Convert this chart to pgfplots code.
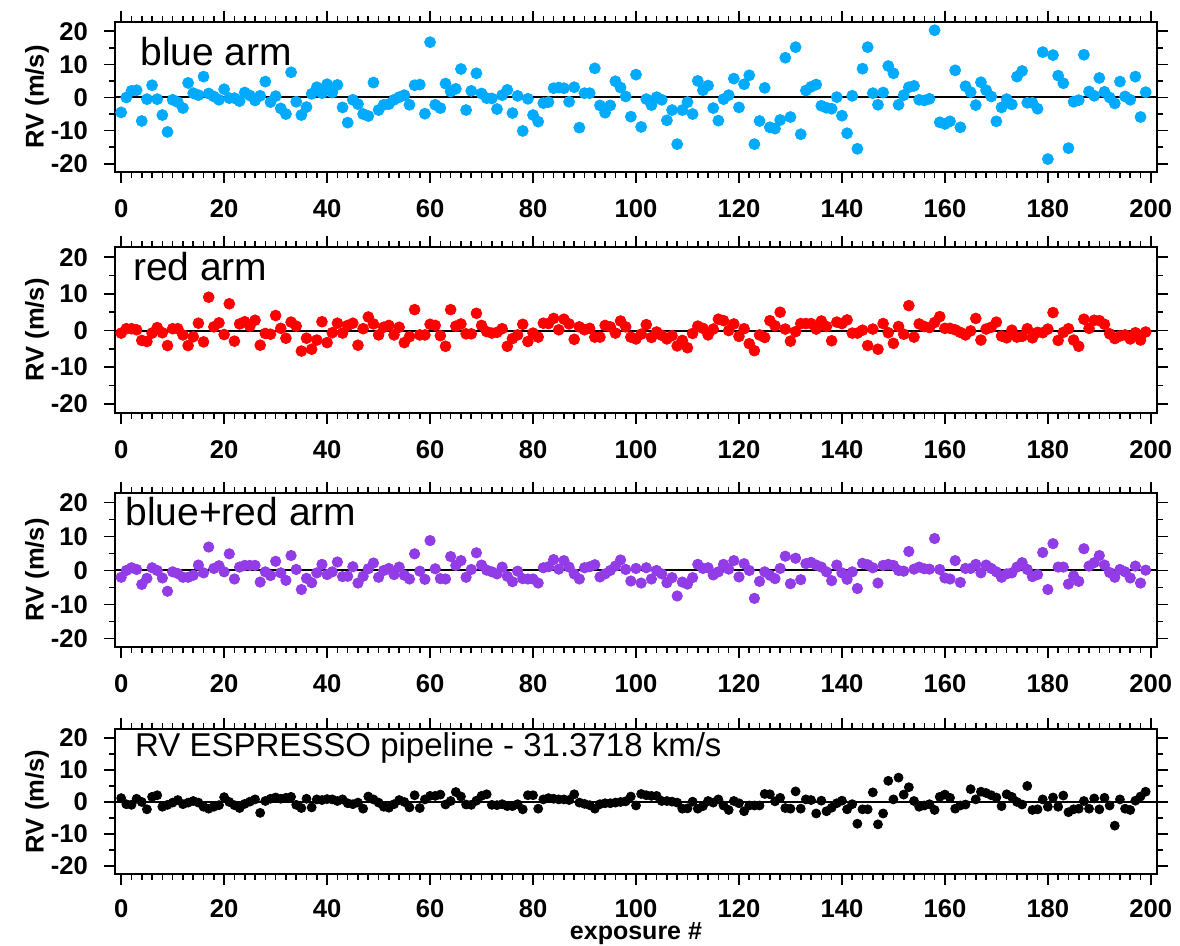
\documentclass[border=0pt]{standalone}
\usepackage{fontspec}
\setmainfont{Liberation Sans}
\usepackage{pgfplots}
\pgfplotsset{compat=1.18}
\definecolor{cblue}{RGB}{0,170,255}
\definecolor{cred}{RGB}{255,0,0}
\definecolor{cpurple}{RGB}{145,60,230}
\pgfplotsset{rvpanel/.style={
  scale only axis, width=521pt, anchor=south west,
  xmin=-1.2, xmax=201.2, ymin=-22.5, ymax=22.8,
  xtick={0,20,...,200}, minor x tick num=9,
  ytick={-20,-10,0,10,20}, minor y tick num=1,
  tick align=outside, major tick length=5.5pt, minor tick length=3pt,
  axis line style={line width=0.9pt},
  every tick/.style={line width=0.8pt, black},
  tick label style={font=\fontsize{12.8}{14}\selectfont\bfseries},
  /pgf/number format/assume math mode=true,
  yticklabel style={anchor=east, xshift=-4.5pt},
  xticklabel style={anchor=north, inner sep=1pt, yshift=-7pt},
  ylabel={RV (m/s)},
  every axis y label/.style={at={(rel axis cs:0,0.5)}, xshift=-39pt, rotate=90, anchor=center, font=\fontsize{12.8}{14}\selectfont\bfseries},
}}
\begin{document}
\begin{tikzpicture}
\useasboundingbox (0,0) rectangle (590pt,473pt);
% ---------- blue arm ----------
\begin{axis}[rvpanel, at={(57.5pt,387pt)}, height=75pt]
\addplot[black, line width=1pt, no marks] coordinates {(-1.2,0) (201.2,0)};
\addplot[cblue, only marks, mark=*, mark size=2.75pt] coordinates {
(0,-4.5)(1,0.0)(2,2.0)(3,2.2)(4,-7.1)(5,-0.5)(6,3.7)(7,-0.5)(8,-5.3)(9,-10.4)
(10,-0.7)(11,-1.4)(12,-3.2)(13,4.4)(14,1.3)(15,0.7)(16,6.3)(17,1.2)(18,0.3)(19,-0.7)
(20,2.5)(21,-0.2)(22,-0.2)(23,-1.1)(24,1.5)(25,0.6)(26,-0.9)(27,0.5)(28,4.8)(29,-1.4)
(30,0.4)(31,-3.3)(32,-5.0)(33,7.6)(34,-1.3)(35,-5.3)(36,-2.9)(37,1.1)(38,3.1)(39,1.3)
(40,4.0)(41,1.5)(42,3.8)(43,-3.0)(44,-7.6)(45,-0.7)(46,-2.0)(47,-5.0)(48,-5.6)(49,4.5)
(50,-3.8)(51,-2.2)(52,-2.0)(53,-0.7)(54,0.1)(55,0.7)(56,-2.2)(57,3.7)(58,3.9)(59,-4.9)
(60,16.7)(61,-2.2)(62,-3.2)(63,4.2)(64,1.8)(65,2.6)(66,8.6)(67,-3.8)(68,2.0)(69,7.3)
(70,1.2)(71,-0.2)(72,-0.3)(73,-3.5)(74,0.7)(75,2.3)(76,-4.7)(77,0.5)(78,-10.1)(79,-0.4)
(80,-5.3)(81,-7.3)(82,-1.7)(83,-1.4)(84,2.8)(85,3.0)(86,2.8)(87,-1.3)(88,3.1)(89,-9.1)
(90,1.3)(91,1.3)(92,8.8)(93,-2.4)(94,-4.6)(95,-2.4)(96,4.9)(97,3.0)(98,0.3)(99,-5.8)
(100,6.9)(101,-8.9)(102,-0.5)(103,-2.3)(104,0.1)(105,-0.7)(106,-6.9)(107,-3.8)(108,-14.1)(109,-3.8)
(110,-1.4)(111,-5.0)(112,5.0)(113,2.2)(114,3.6)(115,-3.2)(116,-7.0)(117,-0.5)(118,0.7)(119,5.7)
(120,-3.0)(121,4.0)(122,6.7)(123,-14.1)(124,-7.1)(125,2.9)(126,-9.0)(127,-9.4)(128,-6.8)(129,12.0)
(130,-5.9)(131,15.2)(132,-11.1)(133,2.1)(134,3.2)(135,3.9)(136,-2.5)(137,-3.1)(138,-3.4)(139,0.1)
(140,-5.5)(141,-10.8)(142,0.5)(143,-15.5)(144,8.7)(145,15.2)(146,1.3)(147,-2.2)(148,1.5)(149,9.5)
(150,7.3)(151,-2.2)(152,0.7)(153,3.1)(154,3.5)(155,-0.7)(156,-0.9)(157,-0.4)(158,20.3)(159,-7.5)
(160,-8.0)(161,-7.2)(162,8.2)(163,-9.0)(164,3.4)(165,1.6)(166,-2.3)(167,4.6)(168,2.2)(169,0.3)
(170,-7.2)(171,-3.0)(172,-0.5)(173,-2.1)(174,6.3)(175,8.0)(176,-1.6)(177,-1.6)(178,-3.4)(179,13.7)
(180,-18.6)(181,12.8)(182,6.6)(183,4.3)(184,-15.3)(185,-1.3)(186,-0.8)(187,12.9)(188,1.8)(189,0.5)
(190,5.9)(191,1.7)(192,0.0)(193,-1.8)(194,4.8)(195,0.3)(196,-0.7)(197,6.3)(198,-5.9)(199,1.6)
};
\node[anchor=base west, inner sep=0pt, font=\fontsize{19.5}{22}\selectfont] at (rel axis cs:0.024,0.713) {blue arm};
\end{axis}
% ---------- red arm ----------
\begin{axis}[rvpanel, at={(57.5pt,266.5pt)}, height=83pt]
\addplot[black, line width=1pt, no marks] coordinates {(-1.2,0) (201.2,0)};
\addplot[cred, only marks, mark=*, mark size=2.7pt] coordinates {
(0,-0.7)(1,0.5)(2,0.5)(3,0.2)(4,-2.7)(5,-3.0)(6,-0.7)(7,0.8)(8,-0.6)(9,-4.1)
(10,0.5)(11,0.5)(12,-1.2)(13,-4.1)(14,-1.7)(15,2.0)(16,-3.1)(17,9.1)(18,1.0)(19,2.1)
(20,-1.1)(21,7.3)(22,-2.9)(23,1.8)(24,2.4)(25,1.2)(26,2.8)(27,-4.0)(28,-0.8)(29,-1.0)
(30,4.1)(31,0.6)(32,-2.1)(33,2.3)(34,1.2)(35,-5.6)(36,-2.1)(37,-5.1)(38,-2.6)(39,2.4)
(40,-3.3)(41,-0.6)(42,2.0)(43,-0.7)(44,1.4)(45,2.0)(46,-4.0)(47,0.5)(48,3.7)(49,1.8)
(50,-1.2)(51,0.9)(52,1.4)(53,-1.2)(54,0.9)(55,-3.3)(56,-1.7)(57,5.7)(58,-1.2)(59,-1.2)
(60,1.7)(61,1.4)(62,-1.4)(63,-4.3)(64,5.7)(65,1.2)(66,1.8)(67,-0.9)(68,-0.9)(69,4.7)
(70,1.4)(71,-0.3)(72,-0.7)(73,-0.5)(74,0.5)(75,-4.3)(76,-2.2)(77,-1.2)(78,1.7)(79,-3.0)
(80,-0.7)(81,-1.8)(82,2.0)(83,1.9)(84,3.3)(85,0.2)(86,3.1)(87,1.8)(88,-2.4)(89,1.0)
(90,0.2)(91,0.6)(92,-1.8)(93,-1.8)(94,1.4)(95,1.0)(96,-0.7)(97,2.6)(98,1.0)(99,-1.8)
(100,-2.3)(101,-1.0)(102,1.6)(103,-1.9)(104,-0.4)(105,-1.3)(106,-2.3)(107,-1.4)(108,-4.2)(109,-2.7)
(110,-4.7)(111,-0.8)(112,1.2)(113,0.6)(114,-1.2)(115,0.4)(116,3.1)(117,2.7)(118,0.0)(119,1.8)
(120,-1.6)(121,0.5)(122,-3.6)(123,-5.5)(124,-1.2)(125,-1.9)(126,2.7)(127,1.3)(128,5.0)(129,0.4)
(130,-2.9)(131,-0.3)(132,1.9)(133,1.9)(134,1.9)(135,0.4)(136,2.6)(137,1.1)(138,-2.8)(139,2.3)
(140,1.9)(141,2.9)(142,-0.7)(143,-0.7)(144,0.1)(145,-4.1)(146,0.4)(147,-5.1)(148,1.9)(149,-0.6)
(150,-3.5)(151,1.1)(152,-1.0)(153,6.8)(154,-1.8)(155,1.8)(156,1.1)(157,0.8)(158,2.2)(159,3.8)
(160,0.6)(161,0.6)(162,0.2)(163,-0.5)(164,-1.2)(165,-0.1)(166,3.3)(167,-2.6)(168,0.4)(169,0.9)
(170,2.3)(171,-1.5)(172,-2.0)(173,0.1)(174,-1.8)(175,-1.6)(176,0.5)(177,-2.0)(178,-0.5)(179,-0.6)
(180,0.4)(181,4.9)(182,-2.7)(183,-0.5)(184,0.5)(185,-2.6)(186,-4.3)(187,3.1)(188,0.6)(189,2.8)
(190,2.7)(191,1.7)(192,-0.9)(193,-2.2)(194,-1.5)(195,-1.2)(196,-2.3)(197,-0.6)(198,-2.6)(199,-0.4)
};
\node[anchor=base west, inner sep=0pt, font=\fontsize{19.5}{22}\selectfont] at (rel axis cs:0.017,0.80) {red arm};
\end{axis}
% ---------- blue+red arm ----------
\begin{axis}[rvpanel, at={(57.5pt,149.5pt)}, height=77pt]
\addplot[black, line width=1pt, no marks] coordinates {(-1.2,0) (201.2,0)};
\addplot[cpurple, only marks, mark=*, mark size=2.6pt] coordinates {
(0,-2.0)(1,0.0)(2,0.8)(3,0.3)(4,-4.1)(5,-2.3)(6,0.8)(7,0.0)(8,-2.2)(9,-6.1)
(10,-0.4)(11,-0.9)(12,-2.0)(13,-2.0)(14,-1.4)(15,1.6)(16,-0.7)(17,6.9)(18,0.6)(19,1.4)
(20,-0.4)(21,4.9)(22,-2.5)(23,1.0)(24,1.5)(25,1.5)(26,1.5)(27,-3.4)(28,-0.4)(29,-1.5)
(30,2.7)(31,-0.7)(32,-2.9)(33,4.4)(34,0.3)(35,-5.6)(36,-2.3)(37,-3.6)(38,-0.7)(39,1.8)
(40,-1.2)(41,-0.4)(42,2.5)(43,-1.8)(44,-1.7)(45,1.1)(46,-3.7)(47,-1.7)(48,0.5)(49,2.2)
(50,-2.0)(51,0.0)(52,0.6)(53,-1.2)(54,1.0)(55,-1.4)(56,-2.5)(57,4.9)(58,-0.2)(59,-2.6)
(60,8.8)(61,0.5)(62,-2.4)(63,-2.5)(64,4.1)(65,1.5)(66,2.9)(67,-2.0)(68,0.3)(69,5.2)
(70,1.6)(71,0.1)(72,-0.4)(73,-1.0)(74,1.0)(75,-1.7)(76,-3.3)(77,-0.2)(78,-2.4)(79,-2.5)
(80,-2.5)(81,-3.7)(82,0.8)(83,1.1)(84,3.2)(85,0.4)(86,2.9)(87,1.0)(88,-1.0)(89,-2.5)
(90,0.8)(91,1.1)(92,1.7)(93,-1.9)(94,-1.0)(95,0.0)(96,1.3)(97,3.1)(98,0.3)(99,-3.1)
(100,0.6)(101,-3.7)(102,0.8)(103,-2.5)(104,0.0)(105,-1.0)(106,-3.6)(107,-2.1)(108,-7.5)(109,-3.4)
(110,-4.0)(111,-2.1)(112,1.8)(113,0.6)(114,0.8)(115,-1.3)(116,-0.4)(117,1.8)(118,0.4)(119,2.9)
(120,-1.9)(121,2.0)(122,0.0)(123,-8.2)(124,-3.2)(125,-0.4)(126,-1.4)(127,-2.4)(128,0.6)(129,4.2)
(130,-3.9)(131,3.6)(132,-2.7)(133,2.0)(134,2.4)(135,1.6)(136,1.0)(137,-0.4)(138,-3.0)(139,1.6)
(140,-0.7)(141,-2.6)(142,-0.4)(143,-5.3)(144,2.1)(145,1.7)(146,0.8)(147,-3.7)(148,1.5)(149,1.8)
(150,1.5)(151,0.0)(152,-0.2)(153,5.6)(154,0.4)(155,1.0)(156,0.5)(157,0.4)(158,9.4)(159,0.3)
(160,-2.2)(161,-2.5)(162,2.9)(163,-3.5)(164,0.6)(165,0.6)(166,1.8)(167,-0.7)(168,1.6)(169,0.6)
(170,-0.4)(171,-2.0)(172,-1.0)(173,-0.7)(174,1.0)(175,2.3)(176,0.3)(177,-1.8)(178,-1.2)(179,5.3)
(180,-5.6)(181,7.9)(182,1.0)(183,1.0)(184,-4.0)(185,-1.6)(186,-3.2)(187,6.4)(188,1.3)(189,2.3)
(190,4.4)(191,1.6)(192,-0.6)(193,-2.0)(194,0.3)(195,-0.4)(196,-2.2)(197,1.3)(198,-3.7)(199,0.1)
};
\node[anchor=base west, inner sep=0pt, font=\fontsize{19.5}{22}\selectfont] at (rel axis cs:0.0096,0.792) {blue+red arm};
\end{axis}
% ---------- ESPRESSO pipeline ----------
\begin{axis}[rvpanel, at={(57.5pt,36pt)}, height=72.5pt,
  xticklabel style={yshift=1pt},
  xlabel={exposure \#},
  every axis x label/.style={at={(rel axis cs:0.5,0)}, anchor=base, inner sep=0pt, yshift=-33pt, font=\fontsize{12.5}{14}\selectfont\bfseries}]
\addplot[black, line width=1pt, no marks] coordinates {(-1.2,0) (201.2,0)};
\addplot[black, only marks, mark=*, mark size=2.25pt] coordinates {
(0,1.2)(1,-0.7)(2,-0.9)(3,1.0)(4,0.0)(5,-2.3)(6,1.6)(7,2.1)(8,-1.5)(9,-0.9)
(10,-0.2)(11,0.6)(12,-0.7)(13,-0.2)(14,0.3)(15,-0.2)(16,-1.5)(17,-2.1)(18,-1.5)(19,-1.0)
(20,1.5)(21,0.0)(22,-1.0)(23,-1.9)(24,-0.6)(25,0.1)(26,0.8)(27,-3.4)(28,0.3)(29,1.0)
(30,1.4)(31,1.0)(32,1.3)(33,1.6)(34,-0.9)(35,-1.9)(36,1.0)(37,-1.7)(38,0.8)(39,0.6)
(40,0.9)(41,0.8)(42,0.3)(43,0.8)(44,-0.4)(45,-0.7)(46,-0.2)(47,-2.1)(48,1.7)(49,0.8)
(50,-0.2)(51,-1.5)(52,-1.8)(53,-0.7)(54,0.6)(55,0.0)(56,-1.7)(57,2.1)(58,-1.9)(59,0.8)
(60,1.9)(61,1.9)(62,2.3)(63,-0.8)(64,0.3)(65,3.1)(66,1.7)(67,-0.8)(68,-0.9)(69,0.4)
(70,1.9)(71,2.4)(72,-0.9)(73,-1.0)(74,-0.7)(75,-1.3)(76,-1.3)(77,-0.7)(78,-2.3)(79,2.1)
(80,2.1)(81,-2.1)(82,0.8)(83,1.2)(84,1.0)(85,0.8)(86,0.8)(87,0.6)(88,2.4)(89,-0.2)
(90,-0.6)(91,-1.0)(92,-2.1)(93,-0.7)(94,-0.4)(95,-0.4)(96,-0.2)(97,0.0)(98,0.2)(99,1.7)
(100,-1.1)(101,2.5)(102,2.1)(103,1.9)(104,1.9)(105,0.3)(106,0.3)(107,0.1)(108,-0.2)(109,-2.1)
(110,-2.0)(111,0.1)(112,-2.1)(113,-1.3)(114,0.3)(115,-0.2)(116,0.8)(117,-1.1)(118,-2.5)(119,0.3)
(120,-0.4)(121,-2.9)(122,-1.1)(123,-1.1)(124,-1.1)(125,2.5)(126,2.4)(127,0.2)(128,1.3)(129,-1.9)
(130,-2.1)(131,3.3)(132,-2.1)(133,0.8)(134,0.6)(135,-3.6)(136,0.4)(137,-2.9)(138,-1.8)(139,-0.4)
(140,0.4)(141,-2.3)(142,-0.7)(143,-6.8)(144,-2.3)(145,-2.3)(146,3.0)(147,-7.0)(148,-3.6)(149,6.6)
(150,0.8)(151,7.6)(152,2.3)(153,4.6)(154,0.3)(155,-1.5)(156,-1.1)(157,-0.7)(158,-2.5)(159,1.6)
(160,2.3)(161,1.3)(162,-2.1)(163,-1.1)(164,-0.8)(165,4.0)(166,0.8)(167,3.2)(168,2.8)(169,2.1)
(170,1.4)(171,-1.3)(172,2.4)(173,1.6)(174,0.0)(175,-0.8)(176,5.0)(177,-2.5)(178,-2.3)(179,0.8)
(180,-1.5)(181,1.4)(182,-1.5)(183,2.0)(184,-3.2)(185,-2.3)(186,-2.1)(187,0.3)(188,-2.1)(189,1.1)
(190,-2.3)(191,1.3)(192,-1.1)(193,-7.4)(194,0.8)(195,-2.1)(196,-2.5)(197,0.4)(198,1.7)(199,3.2)
};
\node[anchor=base west, inner sep=0pt, font=\fontsize{16.5}{19}\selectfont] at (rel axis cs:0.019,0.81) {RV ESPRESSO pipeline - 31.3718 km/s};
\end{axis}
\end{tikzpicture}
\end{document}
